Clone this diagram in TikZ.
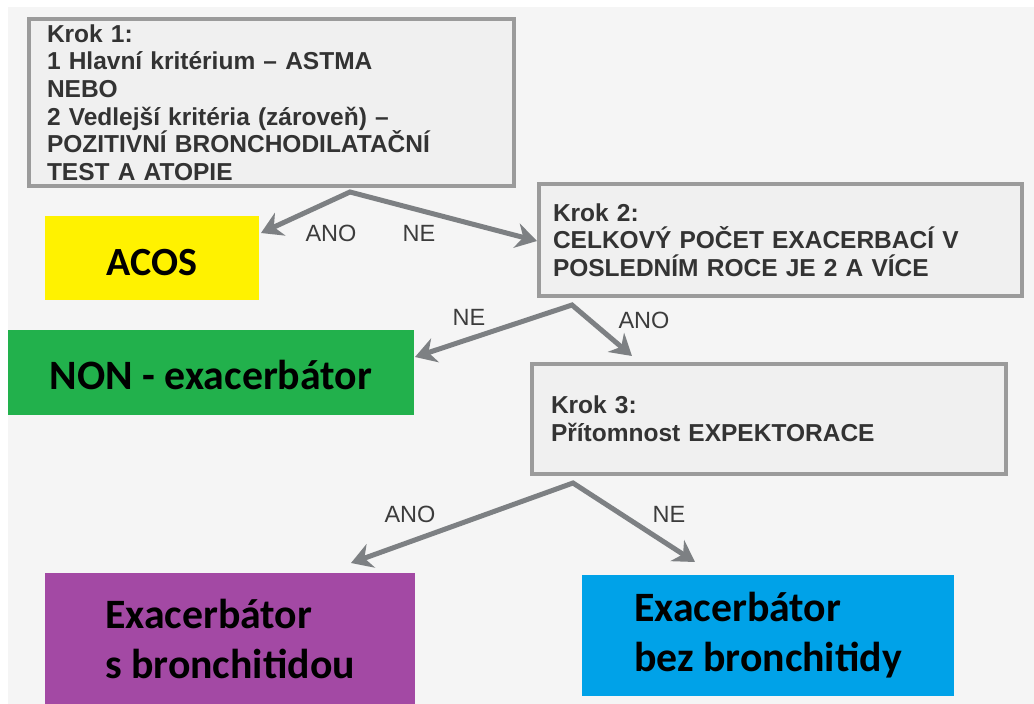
\documentclass[tikz,border=0pt]{standalone}
\usepackage{fontspec}
\setmainfont{Liberation Sans}
\newfontfamily\calfont{Carlito}
\usetikzlibrary{arrows.meta}
\definecolor{bgc}{HTML}{F5F5F5}
\definecolor{boxfill}{HTML}{F0F0F0}
\definecolor{boxline}{HTML}{9B9B9B}
\definecolor{txt}{HTML}{333333}
\definecolor{lbltxt}{HTML}{3C3C3C}
\definecolor{arrc}{HTML}{7D8083}
\definecolor{cyel}{HTML}{FFF200}
\definecolor{cgrn}{HTML}{22B14C}
\definecolor{cpur}{HTML}{A349A4}
\definecolor{cblu}{HTML}{00A2E8}
\tikzset{
  stepbox/.style={draw=boxline, line width=4pt, fill=boxfill, text=txt,
    font=\fontsize{24.5}{27.7}\selectfont\bfseries, align=left, inner ysep=0pt},
  resbox/.style={inner sep=0pt, align=left, text=black,
    font=\fontsize{41.8}{50}\selectfont\calfont\bfseries},
  arr/.style={draw=arrc, line width=5pt, line join=miter,
    {Stealth[length=21pt,width=25pt]}-{Stealth[length=21pt,width=25pt]}},
  lbl/.style={text=lbltxt, font=\fontsize{23.5}{26}\selectfont, inner sep=0pt}
}
\begin{document}
\begin{tikzpicture}[x=1pt,y=-1pt]
\useasboundingbox (0,0) rectangle (1034,704);
\fill[white] (0,0) rectangle (1034,704);
\fill[bgc] (8,7) rectangle (1034,704);

\node[stepbox, minimum width=485pt, minimum height=167pt, inner xsep=18pt, text width=449pt] (k1) at (271.5,102.5)
 {Krok 1:\\1 Hlavní kritérium – ASTMA\\NEBO\\2 Vedlejší kritéria (zároveň) –\\POZITIVNÍ BRONCHODILATAČNÍ\\TEST A ATOPIE};
\node[stepbox, minimum width=483pt, minimum height=112pt, inner xsep=14pt, text width=455pt] (k2) at (780.5,240)
 {Krok 2:\\CELKOVÝ POČET EXACERBACÍ V\\POSLEDNÍM ROCE JE 2 A VÍCE};
\node[stepbox, minimum width=474pt, minimum height=110pt, inner xsep=19pt, text width=436pt] (k3) at (769,419)
 {Krok 3:\\Přítomnost EXPEKTORACE};

\node[resbox, fill=cyel, minimum width=214pt, minimum height=84pt,
  font=\fontsize{40}{50}\selectfont\calfont\bfseries, text height=34pt, text depth=0pt] (acos) at (152,258) {ACOS};
\node[resbox, fill=cgrn, minimum width=406pt, minimum height=85pt,
  text height=34pt, text depth=0pt] (non) at (211,372.5) {NON - exacerbátor};
\node[resbox, fill=cpur, minimum width=370pt, minimum height=131pt] (sb) at (230,638.5) {Exacerbátor\\s bronchitidou};
\node[resbox, fill=cblu, minimum width=372pt, minimum height=121pt] (bb) at (768,635.5) {Exacerbátor\\bez bronchitidy};

\coordinate (p1) at (350,192);
\coordinate (t1l) at (261,233);
\coordinate (t1r) at (537,241);
\coordinate (p2) at (572,305);
\coordinate (t2l) at (415,357);
\coordinate (t2r) at (632,356);
\coordinate (p3) at (573,483);
\coordinate (t3l) at (351,563);
\coordinate (t3r) at (695,562);

\draw[arr] (t1l) -- (p1) -- (t1r);
\draw[arr] (t2l) -- (p2) -- (t2r);
\draw[arr] (t3l) -- (p3) -- (t3r);

\node[lbl] (l1a) at (331,233) {ANO};
\node[lbl] (l1n) at (419,233) {NE};
\node[lbl] (l2n) at (469,317) {NE};
\node[lbl] (l2a) at (644,320) {ANO};
\node[lbl] (l3a) at (410,514) {ANO};
\node[lbl] (l3n) at (669,514) {NE};
\end{tikzpicture}
\end{document}
